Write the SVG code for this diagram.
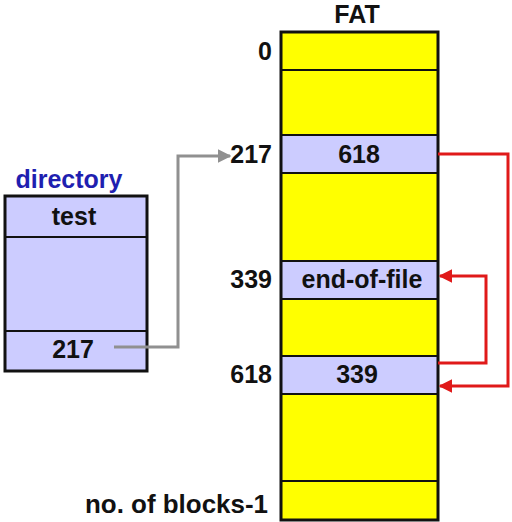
<svg xmlns="http://www.w3.org/2000/svg" width="512" height="522" viewBox="0 0 512 522">
<defs>
<style>
text{font-family:"Liberation Sans",Arial,sans-serif;font-weight:bold;font-size:25px;fill:#111}
.c{text-anchor:middle}
.r{text-anchor:end}
.y{fill:#ffff00}
.b{fill:#ccccff}
.ln{stroke:#111;stroke-width:2;fill:none}
.box{stroke:#111;stroke-width:3;fill:none}
.red{stroke:#e01a1a;stroke-width:3;fill:none}
.gray{stroke:#909090;stroke-width:3;fill:none}
</style>
<marker id="ar" viewBox="0 0 10 10" refX="9" refY="5" markerWidth="4.5" markerHeight="4.5" orient="auto"><path d="M0,0L10,5L0,10z" fill="#e01a1a"/></marker>
<marker id="ag" viewBox="0 0 10 10" refX="9" refY="5" markerWidth="4.5" markerHeight="4.5" orient="auto"><path d="M0,0L10,5L0,10z" fill="#909090"/></marker>
</defs>
<g id="directory">
<text x="69" y="188" class="c" style="fill:#1f1fb0">directory</text>
<rect x="5" y="196" width="142" height="175" class="b"/>
<line x1="5" y1="237" x2="147" y2="237" class="ln"/>
<line x1="5" y1="331" x2="147" y2="331" class="ln"/>
<rect x="5" y="196" width="142" height="175" class="box"/>
<text x="74" y="225" class="c">test</text>
<text x="73" y="358" class="c">217</text>
</g>
<g id="fat">
<text x="357" y="23" class="c">FAT</text>
<rect x="281" y="32" width="157" height="488" class="y"/>
<rect x="281" y="135" width="157" height="38" class="b"/>
<rect x="281" y="261" width="157" height="38" class="b"/>
<rect x="281" y="356" width="157" height="38" class="b"/>
<line x1="281" y1="70" x2="438" y2="70" class="ln"/>
<line x1="281" y1="135" x2="438" y2="135" class="ln"/>
<line x1="281" y1="173" x2="438" y2="173" class="ln"/>
<line x1="281" y1="261" x2="438" y2="261" class="ln"/>
<line x1="281" y1="299" x2="438" y2="299" class="ln"/>
<line x1="281" y1="356" x2="438" y2="356" class="ln"/>
<line x1="281" y1="394" x2="438" y2="394" class="ln"/>
<line x1="281" y1="481" x2="438" y2="481" class="ln"/>
<rect x="281" y="32" width="157" height="488" class="box"/>
<text x="359" y="163" class="c">618</text>
<text x="362" y="288" class="c">end-of-file</text>
<text x="357" y="383" class="c">339</text>
<text x="272" y="60" class="r">0</text>
<text x="272" y="163" class="r">217</text>
<text x="272" y="288" class="r">339</text>
<text x="272" y="383" class="r">618</text>
<text x="268" y="513" class="r" textLength="183" lengthAdjust="spacingAndGlyphs">no. of blocks-1</text>
</g>
<g id="connectors">
<polyline points="114,347 178,347 178,156 230,156" class="gray" marker-end="url(#ag)"/>
<polyline points="438,154 508,154 508,386 440,386" class="red" marker-end="url(#ar)"/>
<polyline points="438,363 486,363 486,276 440,276" class="red" marker-end="url(#ar)"/>
</g>
</svg>
